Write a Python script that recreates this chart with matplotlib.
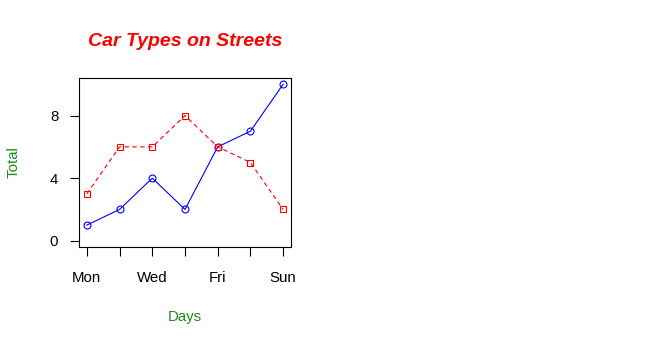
import matplotlib
matplotlib.use('Agg')
import matplotlib.pyplot as plt

days = ['Mon', 'Tue', 'Wed', 'Thu', 'Fri', 'Sat', 'Sun']
cars = [1, 2, 4, 2, 6, 7, 10]
trucks = [3, 6, 6, 8, 6, 5, 2]
tick_labels = ['Mon', '', 'Wed', '', 'Fri', '', 'Sun']

plt.rcParams['font.family'] = ['Liberation Sans', 'DejaVu Sans']

fig = plt.figure(figsize=(6.62, 3.46), dpi=100)
ax = fig.add_axes([79 / 662, 99 / 346, 212 / 662, 169 / 346])

x = list(range(len(days)))
ax.plot(x, cars, color='blue', lw=0.8, marker='o', ms=5, mfc='none', mew=0.8)
ax.plot(x, trucks, color='red', lw=0.8, ls=(0, (4, 3)), marker='s', ms=5,
        mfc='none', mew=0.8)

ax.set_xlim(-0.24, 6.24)
ax.set_ylim(-0.4, 10.4)
ax.set_xticks(x)
ax.set_xticklabels(tick_labels)
ax.set_yticks([0, 4, 8])
ax.tick_params(direction='out', length=6.5, width=0.8, labelsize=10.8)
ax.tick_params(axis='x', pad=11)
ax.tick_params(axis='y', pad=8.5)
for s in ax.spines.values():
    s.set_linewidth(0.8)

ax.set_title('Car Types on Streets', color='red', fontsize=14,
             fontweight='bold', fontstyle='italic', pad=23)
ax.set_xlabel('Days', color='#1a8f1a', fontsize=10.8, labelpad=18)
ax.set_ylabel('Total', color='#1a8f1a', fontsize=10.8, labelpad=21)

fig.savefig('out.png', dpi=100)
